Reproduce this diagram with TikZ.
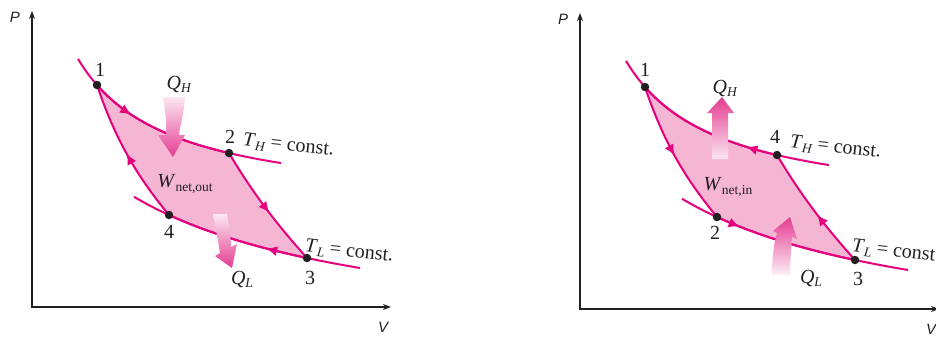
\documentclass[tikz,border=0pt]{standalone}
\usepackage{fontspec}
\setmainfont{Liberation Serif}
\newfontfamily\axfont{Liberation Sans}
\usetikzlibrary{arrows.meta,decorations.markings}
\definecolor{mag}{RGB}{230,0,126}
\definecolor{cycpink}{RGB}{245,182,212}
\definecolor{qpink}{RGB}{228,60,145}
\definecolor{ink}{RGB}{35,31,32}
\newcommand\lsub[1]{\raisebox{-0.35ex}{\fontsize{13.5}{13.5}\selectfont #1}}
\newcommand\basepanel[1]{%
  \coordinate (#1ytop) at (32,11);
  \coordinate (#1o) at (32,307);
  \coordinate (#1xend) at (391,307);
  \draw[axisline] (#1ytop) -- (#1o) -- (#1xend);
  \node[axlbl] (#1P) at (15,17) {P};
  \node[axlbl] (#1V) at (383,327) {V};
  \coordinate (#1p1) at (97,85);
  \coordinate (#1pa) at (229,153);
  \coordinate (#1pb) at (307,258);
  \coordinate (#1pc) at (169,215);
  \fill[cycpink] plot[domain=97:229,samples=40] (\x,{fH(\x)})
     .. controls (255,197) and (281,229) .. (#1pb)
     -- plot[domain=307:169,samples=40] (\x,{fL(\x)})
     .. controls (141,181) and (117,145) .. (#1p1) -- cycle;
  \draw[curve] plot[domain=78:281,samples=50] (\x,{fH(\x)});
  \draw[curve] plot[domain=134:360,samples=50] (\x,{fL(\x)});
}
\begin{document}
\begin{tikzpicture}[x=1pt,y=-1pt,
  declare function={fH(\x)=209.5-136.41/((\x+12.6)/100);
                    fL(\x)=349.3-393.49/((\x+124)/100);},
  axisline/.style={line width=2.8pt,draw=ink,{Stealth[length=8pt,width=6pt]}-{Stealth[length=8pt,width=6pt]}},
  axlbl/.style={text=ink,inner sep=0pt,font=\axfont\itshape\fontsize{15}{15}\selectfont},
  curve/.style={draw=mag,line width=2pt},
  dot/.style={circle,fill=ink,inner sep=0pt,minimum size=8.5pt},
  lbl/.style={text=ink,inner sep=0pt,font=\fontsize{20}{20}\selectfont},
  midarrow/.style={postaction={decorate},decoration={markings,
     mark=at position #1 with {\arrow{Latex[length=11pt,width=10pt]}}}},
  qarrow/.style={draw=none}]
\useasboundingbox (0,0) rectangle (936,338);
% ---------- left panel ----------
\begin{scope}
  \basepanel{L}
  \draw[curve,midarrow=0.3] plot[domain=97:229,samples=40] (\x,{fH(\x)});
  \draw[curve,midarrow=0.55] (Lpa) .. controls (255,197) and (281,229) .. (Lpb);
  \draw[curve,midarrow=0.29] plot[domain=307:169,samples=40] (\x,{fL(\x)});
  \draw[curve,midarrow=0.5] (Lpc) .. controls (141,181) and (117,145) .. (Lp1);
  \shade[qarrow,top color=qpink!12,bottom color=qpink]
     (163,97) -- (185,97) .. controls (184,115) and (180,125) .. (179,135)
     -- (185,135) -- (173,157) -- (158,135) -- (166,135)
     .. controls (167,122) and (165,110) .. (163,97) -- cycle;
  \shade[qarrow,top color=qpink!12,bottom color=qpink]
     (213,214) -- (227,214) .. controls (229,226) and (231,238) .. (231,247)
     -- (237,244) -- (232,268) -- (215,256) -- (220,253)
     .. controls (218,240) and (215,226) .. (213,214) -- cycle;
  \node[dot] (Ld1) at (Lp1) {};
  \node[dot] (Ld2) at (Lpa) {};
  \node[dot] (Ld3) at (Lpb) {};
  \node[dot] (Ld4) at (Lpc) {};
  \node[lbl] (Ll1) at (100,70) {1};
  \node[lbl] (Ll2) at (230,137) {2};
  \node[lbl] (Ll3) at (310,278) {3};
  \node[lbl] (Ll4) at (169,232) {4};
  \node[lbl] (LQH) at (179,84) {\textit{Q}\lsub{\textit{H}}};
  \node[lbl] (LQL) at (242,279) {\textit{Q}\lsub{\textit{L}}};
  \node[lbl] (LW) at (185,184) {\textit{W}\lsub{net,out}};
  \node[lbl,anchor=west,rotate=-6] (LTH) at (243,141) {\textit{T}\lsub{\textit{H}} = const.};
  \node[lbl,anchor=west,rotate=-6] (LTL) at (305,247) {\textit{T}\lsub{\textit{L}} = const.};
\end{scope}
% ---------- right panel ----------
\begin{scope}[shift={(548,2)}]
  \basepanel{R}
  \draw[curve,midarrow=0.5] (Rp1) .. controls (117,145) and (141,181) .. (Rpc);
  \draw[curve,midarrow=0.17] plot[domain=169:307,samples=40] (\x,{fL(\x)});
  \draw[curve,midarrow=0.45] (Rpb) .. controls (281,229) and (255,197) .. (Rpa);
  \draw[curve,midarrow=0.21] plot[domain=229:97,samples=40] (\x,{fH(\x)});
  \shade[qarrow,top color=qpink,bottom color=qpink!12]
     (164,157) -- (164,111) -- (159,111) -- (174,95) -- (186,111)
     -- (180,111) -- (180,157) -- cycle;
  \shade[qarrow,top color=qpink,bottom color=qpink!8]
     (224,273) .. controls (224,255) and (226,240) .. (229,231)
     -- (225,229) -- (242,215) -- (249,237) -- (244,235)
     .. controls (243,250) and (242,262) .. (242,273) -- cycle;
  \node[dot] (Rd1) at (Rp1) {};
  \node[dot] (Rd4) at (Rpa) {};
  \node[dot] (Rd3) at (Rpb) {};
  \node[dot] (Rd2) at (Rpc) {};
  \node[lbl] (Rl1) at (97,68) {1};
  \node[lbl] (Rl4) at (227,135) {4};
  \node[lbl] (Rl2) at (167,231) {2};
  \node[lbl] (Rl3) at (310,277) {3};
  \node[lbl] (RQH) at (177,86) {\textit{Q}\lsub{\textit{H}}};
  \node[lbl] (RQL) at (263,276) {\textit{Q}\lsub{\textit{L}}};
  \node[lbl] (RW) at (180,185) {\textit{W}\lsub{net,in}};
  \node[lbl,anchor=west,rotate=-6] (RTH) at (242,141) {\textit{T}\lsub{\textit{H}} = const.};
  \node[lbl,anchor=west,rotate=-6] (RTL) at (304,245) {\textit{T}\lsub{\textit{L}} = const.};
\end{scope}
\end{tikzpicture}
\end{document}
